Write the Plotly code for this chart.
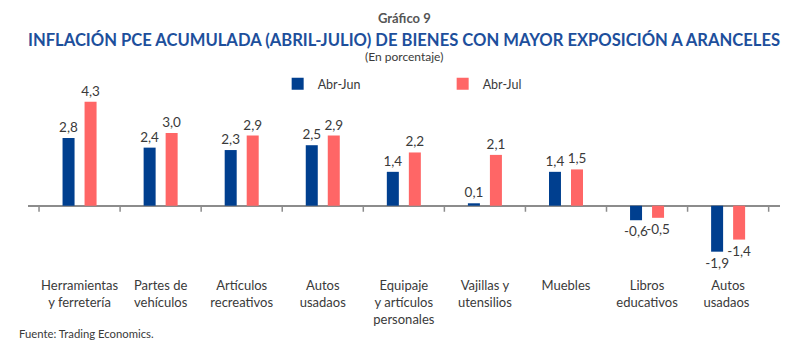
import plotly.graph_objects as go

categories = [
    "Herramientas<br>y ferretería",
    "Partes de<br>vehículos",
    "Artículos<br>recreativos",
    "Autos<br>usadaos",
    "Equipaje<br>y artículos<br>personales",
    "Vajillas y<br>utensilios",
    "Muebles",
    "Libros<br>educativos",
    "Autos<br>usadaos ",
]
abr_jun = [2.8, 2.4, 2.3, 2.5, 1.4, 0.1, 1.4, -0.6, -1.9]
abr_jul = [4.3, 3.0, 2.9, 2.9, 2.2, 2.1, 1.5, -0.5, -1.4]
series_names = ["Abr-Jun", "Abr-Jul"]

BLUE = "#003F8F"
PINK = "#FF6666"
FONT = "Lato"
TXT = "#3a3a3a"

def fmt(v):
    return f"{v:.1f}".replace(".", ",")

fig = go.Figure()
for name, vals, col in [(series_names[0], abr_jun, BLUE), (series_names[1], abr_jul, PINK)]:
    fig.add_trace(go.Bar(
        x=list(range(len(categories))), y=vals, name=name,
        marker=dict(color=col, line=dict(width=0)),
        text=[fmt(v) for v in vals], textposition="outside",
        textfont=dict(family=FONT, size=13.5, color=TXT),
        constraintext="none", cliponaxis=False,
    ))

W, H = 800, 351
top, bottom = 85, 268
ph = bottom - top

def py(ypix):
    return (bottom - ypix) / ph

shapes = []
for i in range(len(categories) + 1):
    shapes.append(dict(type="line", xref="x", yref="y", x0=i - 0.5, x1=i - 0.5,
                       y0=0, y1=-0.25, line=dict(color="#8c8c8c", width=1.5)))

annotations = [
    dict(text="<b>Gráfico 9</b>", x=0.5, y=py(18), xref="paper", yref="paper",
         xanchor="center", yanchor="middle", showarrow=False,
         font=dict(family=FONT, size=13, color="#555555")),
    dict(text="<b>INFLACIÓN PCE ACUMULADA (ABRIL-JULIO) DE BIENES CON MAYOR EXPOSICIÓN A ARANCELES</b>",
         x=0.5, y=py(40), xref="paper", yref="paper",
         xanchor="center", yanchor="middle", showarrow=False,
         font=dict(family=FONT, size=16.6, color="#1d4f9c")),
    dict(text="(En porcentaje)", x=0.5, y=py(56), xref="paper", yref="paper",
         xanchor="center", yanchor="middle", showarrow=False,
         font=dict(family=FONT, size=12, color=TXT)),
    dict(text="Fuente: Trading Economics.", x=-11 / 752, y=py(333),
         xref="paper", yref="paper", xanchor="left", yanchor="middle", showarrow=False,
         font=dict(family=FONT, size=11.3, color=TXT)),
]

fig.update_layout(
    width=W, height=H,
    margin=dict(l=28, r=20, t=top, b=H - bottom, pad=0),
    paper_bgcolor="white", plot_bgcolor="white",
    barmode="group", bargap=0.457, bargroupgap=0.4545,
    showlegend=True,
    legend=dict(orientation="h", x=0.332, y=py(84), xanchor="left", yanchor="middle",
                font=dict(family=FONT, size=12.5, color=TXT), entrywidth=120,
                traceorder="normal"),
    xaxis=dict(range=[-0.636, 8.64], tickmode="array", tickvals=list(range(len(categories))),
               ticktext=categories, showgrid=False, showline=False, ticks="",
               ticklabelstandoff=8,
               tickfont=dict(family=FONT, size=13, color=TXT), zeroline=False),
    yaxis=dict(range=[-2.574, 4.988], showticklabels=False, showgrid=False,
               zeroline=True, zerolinecolor="#8c8c8c", zerolinewidth=2, showline=False),
    shapes=shapes, annotations=annotations,
)
fig.write_html("out.html")
